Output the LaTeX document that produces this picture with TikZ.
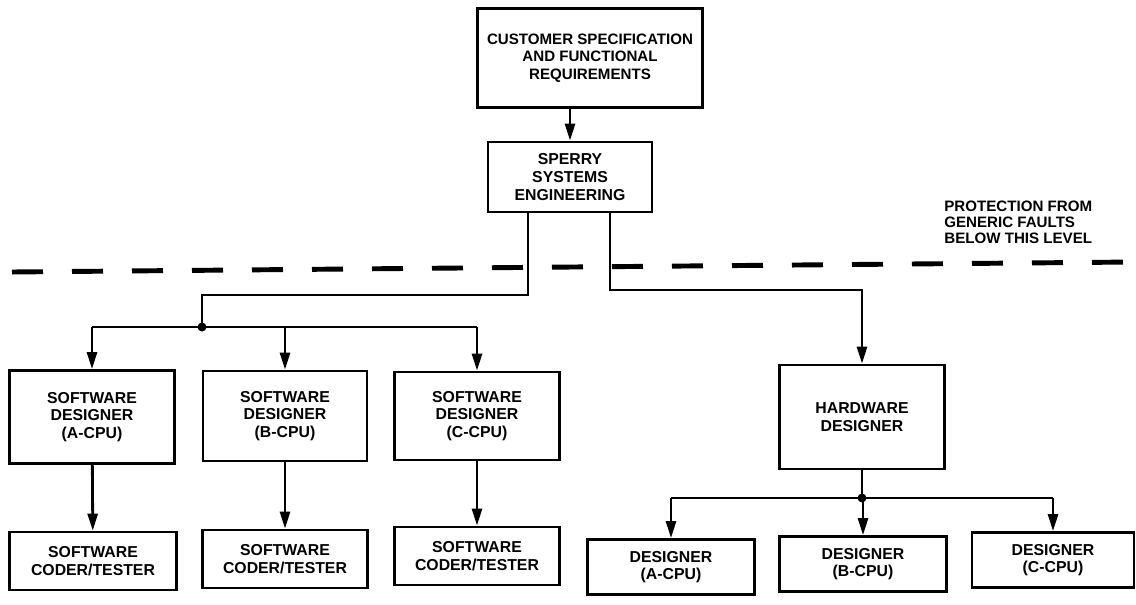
\documentclass[tikz,border=0pt]{standalone}
\usepackage{fontspec}
\setmainfont{Liberation Sans}
\usepackage{tikz}
\usetikzlibrary{arrows.meta,calc}

\begin{document}
\begin{tikzpicture}[x=0.2mm,y=-0.2mm,
    box/.style={draw, line width=1.6pt, align=center, inner sep=2pt,
        font=\fontsize{9}{10}\selectfont\bfseries},
    link/.style={line width=1.6pt},
    arr/.style={link, -{Triangle[length=3.4mm,width=2mm]}}]
    \useasboundingbox (0,0) rectangle (1136,604);

    \node[box, minimum width=4.5cm, minimum height=1.98cm,
          font=\fontsize{8.6}{10}\selectfont\bfseries]       (spec)   at (590,58)  {CUSTOMER SPECIFICATION\\AND FUNCTIONAL\\REQUIREMENTS};
    \node[box, minimum width=3.28cm, minimum height=1.4cm]   (sperry) at (570,177) {SPERRY\\SYSTEMS\\ENGINEERING};

    % software side
    \node[box, minimum width=3.3cm, minimum height=1.86cm]   (swA) at (92,417)  {SOFTWARE\\DESIGNER\\(A-CPU)};
    \node[box, minimum width=3.28cm, minimum height=1.8cm]   (swB) at (285,416) {SOFTWARE\\DESIGNER\\(B-CPU)};
    \node[box, minimum width=3.3cm, minimum height=1.76cm]   (swC) at (477,416) {SOFTWARE\\DESIGNER\\(C-CPU)};
    \node[box, minimum width=3.34cm, minimum height=1.16cm]  (cdA) at (93,561)  {SOFTWARE\\CODER/TESTER};
    \node[box, minimum width=3.3cm, minimum height=1.16cm]   (cdB) at (285,559) {SOFTWARE\\CODER/TESTER};
    \node[box, minimum width=3.3cm, minimum height=1.16cm]   (cdC) at (477,556) {SOFTWARE\\CODER/TESTER};

    % hardware side
    \node[box, minimum width=3.3cm, minimum height=2.08cm]   (hw)  at (862,417) {HARDWARE\\DESIGNER};
    \node[box, minimum width=3.34cm, minimum height=1.1cm]   (dA)  at (671,567) {DESIGNER\\(A-CPU)};
    \node[box, minimum width=3.34cm, minimum height=1.1cm]   (dB)  at (863,564) {DESIGNER\\(B-CPU)};
    \node[box, minimum width=3.24cm, minimum height=1.1cm]   (dC)  at (1053,560) {DESIGNER\\(C-CPU)};

    \node[anchor=west, align=left, inner sep=0pt,
          font=\fontsize{8.6}{9.2}\selectfont\bfseries] (prot) at (944,222)
          {PROTECTION FROM\\GENERIC FAULTS\\BELOW THIS LEVEL};

    % protection level
    \draw[line width=2.8pt, dash pattern=on 6.2mm off 5.8mm] (12,272) -- (1134,262);

    \coordinate (bendL) at (202,295);
    \coordinate (jsw)   at (202,327);
    \coordinate (bendR) at (862,290);
    \coordinate (jhw)   at (862,498);

    \draw[arr] (sperry.north |- spec.south) -- (sperry.north);
    \draw[link] ([xshift=-8.4mm]sperry.south) |- (bendL) -- (jsw);
    \draw[arr]  ([xshift=8mm]sperry.south) |- (bendR) -- (hw.north);

    \draw[link] (swA.north |- jsw) -- (swC.north |- jsw);
    \foreach \n in {swA,swB,swC} \draw[arr] (\n.north |- jsw) -- (\n.north);
    \draw[arr] (swA) -- (cdA);
    \draw[arr] (swB) -- (cdB);
    \draw[arr] (swC) -- (cdC);
    \fill (jsw) circle (0.09cm);

    \draw[link] (hw.south) -- (jhw);
    \draw[link] (dA.north |- jhw) -- (dC.north |- jhw);
    \foreach \n in {dA,dB,dC} \draw[arr] (\n.north |- jhw) -- (\n.north);
    \fill (jhw) circle (0.09cm);
\end{tikzpicture}
\end{document}
